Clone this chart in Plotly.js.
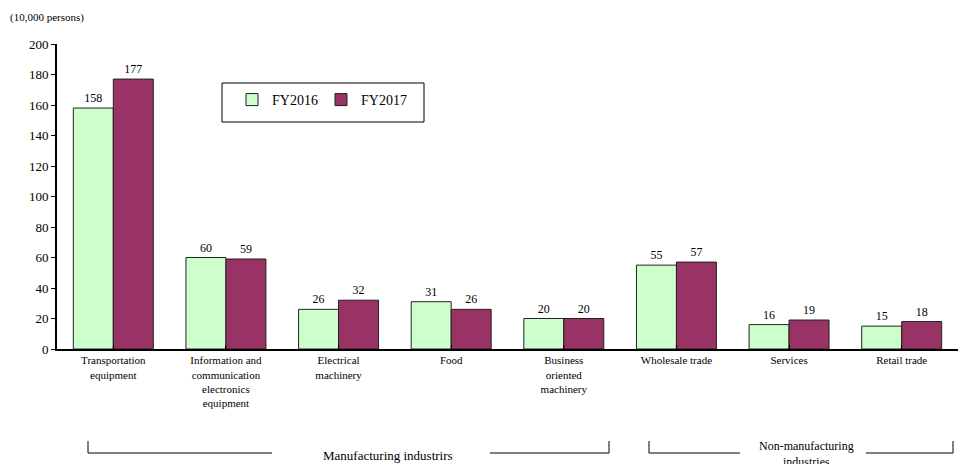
<!DOCTYPE html>
<html>
<head>
<meta charset="utf-8">
<script src="https://cdn.plot.ly/plotly-3.0.1.min.js"></script>
<style>html,body{margin:0;padding:0;background:#fff;}#chart{width:959px;height:464px;}</style>
</head>
<body>
<div id="chart"></div>
<script>
const categories = ["Transportation<br>equipment", "Information and<br>communication<br>electronics<br>equipment", "Electrical<br>machinery", "Food", "Business<br>oriented<br>machinery", "Wholesale trade", "Services", "Retail trade"];
const fy2016 = [158, 60, 26, 31, 20, 55, 16, 15];
const fy2017 = [177, 59, 32, 26, 20, 57, 19, 18];
const seriesNames = ["FY2016", "FY2017"];
const yTicks = [0, 20, 40, 60, 80, 100, 120, 140, 160, 180, 200];

const W = 959, H = 464;
const M = {l: 57, r: 1, t: 44, b: 115};
const pw = W - M.l - M.r, ph = H - M.t - M.b;
const px = x => (x - M.l) / pw;
const py = y => (H - M.b - y) / ph;
const FONT = "Liberation Serif";

const idx = categories.map((c, i) => i);
const traces = [
  {type: "bar", name: seriesNames[0], x: idx, y: fy2016, text: fy2016.map(String), textposition: "outside",
   textfont: {size: 12, color: "#000", family: FONT}, cliponaxis: false,
   marker: {color: "#CCFFCC", line: {color: "#222", width: 1}}},
  {type: "bar", name: seriesNames[1], x: idx, y: fy2017, text: fy2017.map(String), textposition: "outside",
   textfont: {size: 12, color: "#000", family: FONT}, cliponaxis: false,
   marker: {color: "#993366", line: {color: "#222", width: 1}}}
];

function line(x0, y0, x1, y1) {
  return {type: "line", xref: "paper", yref: "paper", x0: px(x0), y0: py(y0), x1: px(x1), y1: py(y1),
          line: {color: "#000", width: 1}};
}

const layout = {
  width: W, height: H,
  margin: M,
  paper_bgcolor: "#fff", plot_bgcolor: "#fff",
  font: {family: FONT, color: "#000", size: 11},
  barmode: "group", bargap: 0.29, bargroupgap: 0,
  showlegend: true,
  legend: {orientation: "h", x: px(232), y: py(84), xanchor: "left", yanchor: "top",
           borderwidth: 0, bgcolor: "rgba(0,0,0,0)",
           font: {size: 14, family: FONT}, entrywidth: 44, itemwidth: 30,
           itemclick: false},
  xaxis: {tickmode: "array", tickvals: idx, ticktext: categories, range: [-0.5, 7.5],
          showline: true, linecolor: "#000", linewidth: 2, ticks: "inside", tickson: "boundaries",
          ticklen: 4, tickcolor: "#000", showgrid: false, zeroline: false,
          tickfont: {size: 11, family: FONT}, fixedrange: true},
  yaxis: {range: [0, 200], tickmode: "array", tickvals: yTicks, showline: true, linecolor: "#000", linewidth: 2,
          ticks: "outside", ticklen: 4, tickcolor: "#000", showgrid: false, zeroline: false,
          tickfont: {size: 13, family: FONT}, fixedrange: true},
  annotations: [
    {text: "(10,000 persons)", xref: "paper", yref: "paper", x: px(8), y: py(18), xanchor: "left", yanchor: "middle",
     showarrow: false, font: {size: 11, family: FONT}},
    {text: "Manufacturing industrirs", xref: "paper", yref: "paper", x: px(388), y: py(455), xanchor: "center", yanchor: "middle",
     showarrow: false, font: {size: 13, family: FONT}},
    {text: "Non-manufacturing<br>industries", xref: "paper", yref: "paper", x: px(806), y: py(437), xanchor: "center", yanchor: "top",
     showarrow: false, font: {size: 12, family: FONT}}
  ],
  shapes: [
    {type: "rect", xref: "paper", yref: "paper", x0: px(222), x1: px(424), y0: py(122), y1: py(83),
     line: {color: "#000", width: 1}, fillcolor: "#fff", layer: "below"},
    line(88, 441, 88, 453), line(88, 453, 272, 453), line(490, 453, 609, 453), line(609, 441, 609, 453),
    line(649, 441, 649, 453), line(649, 453, 740, 453), line(866, 453, 953, 453), line(953, 441, 953, 453)
  ]
};

Plotly.newPlot("chart", traces, layout, {displayModeBar: false, staticPlot: true});
</script>
</body>
</html>
